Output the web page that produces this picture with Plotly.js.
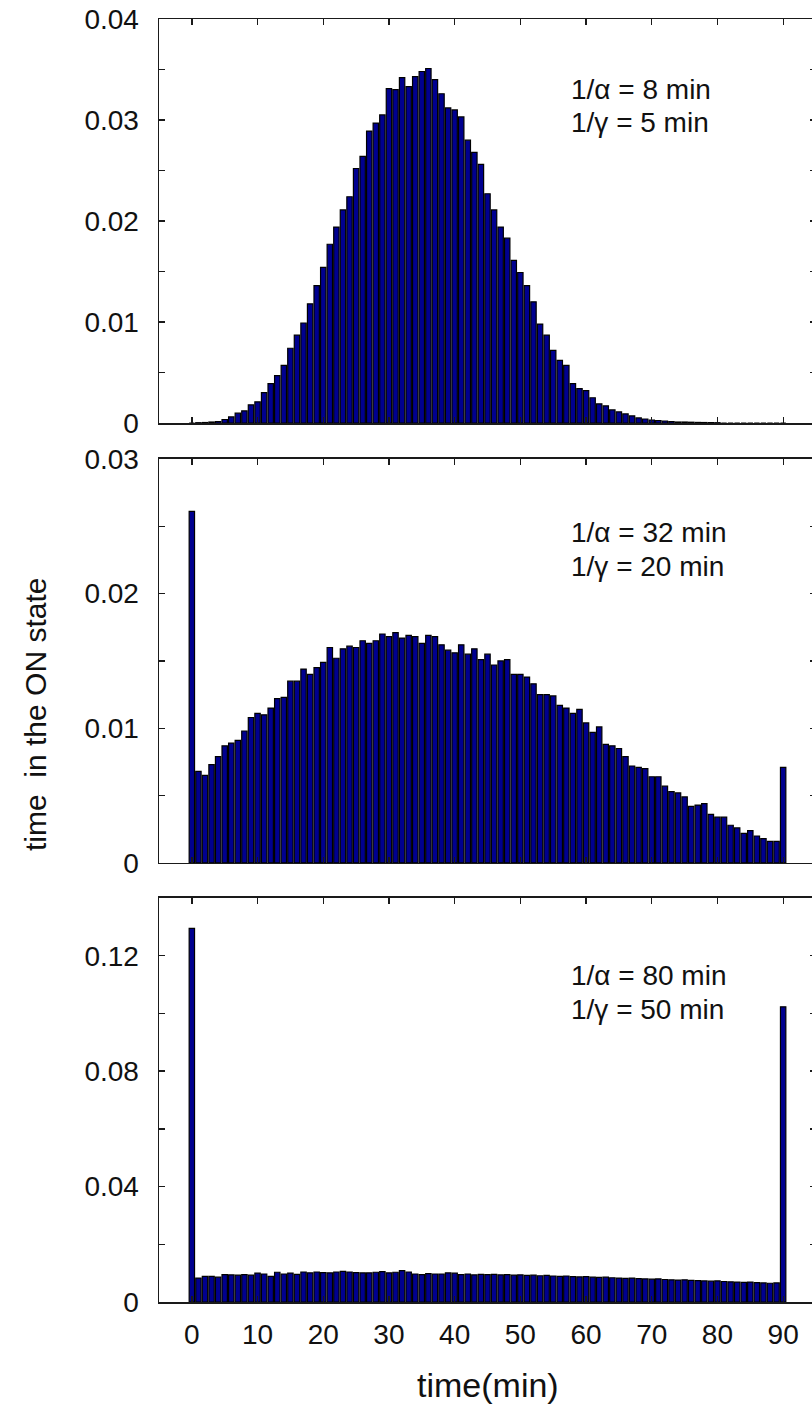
<!DOCTYPE html>
<html>
<head>
<meta charset="utf-8">
<script src="https://cdn.plot.ly/plotly-3.0.1.min.js"></script>
<style>
html,body{margin:0;padding:0;overflow:hidden;background:#ffffff;}
#chart{width:817px;height:1406px;}
</style>
</head>
<body>
<div id="chart"></div>
<script>
// ---- data -------------------------------------------------------------
const timeBins = [0,1,2,3,4,5,6,7,8,9,10,11,12,13,14,15,16,17,18,19,20,21,22,23,24,25,26,27,28,29,30,31,32,33,34,35,36,37,38,39,40,41,42,43,44,45,46,47,48,49,50,51,52,53,54,55,56,57,58,59,60,61,62,63,64,65,66,67,68,69,70,71,72,73,74,75,76,77,78,79,80,81,82,83,84,85,86,87,88,89,90];

// 1/alpha = 8 min, 1/gamma = 5 min
const onTimeFast = [0,0.00003,0.00005,0.0001,0.00015,0.00035,0.0006,0.00097,0.0012,0.0018,
  0.0021,0.0030,0.0039,0.0047,0.0057,0.0074,0.0087,0.0099,0.0118,0.0136,
  0.0154,0.0177,0.0194,0.0211,0.0224,0.0252,0.0264,0.0289,0.0297,0.0305,
  0.0331,0.0330,0.0342,0.0333,0.0343,0.0348,0.0351,0.0340,0.0326,0.0312,
  0.0310,0.0303,0.0280,0.0268,0.0256,0.0227,0.0211,0.0194,0.0183,0.0161,
  0.0149,0.0136,0.0120,0.0098,0.0087,0.0072,0.0062,0.0057,0.0039,0.0034,
  0.0032,0.0025,0.0019,0.0017,0.0013,0.0011,0.0009,0.0007,0.0005,0.0004,
  0.0003,0.00025,0.0002,0.00015,0.0001,0.0001,0.00008,0.00006,0.00005,0.00004,
  0.00003,0,0,0,0,0,0,0,0,0,0];

// 1/alpha = 32 min, 1/gamma = 20 min
const onTimeMid = [0.0261,0.0068,0.0065,0.0073,0.0079,0.0087,0.0089,0.0091,0.0098,0.0108,
  0.0111,0.0110,0.0115,0.0122,0.0123,0.0135,0.0135,0.0144,0.0140,0.0145,
  0.0149,0.0160,0.0152,0.0159,0.0161,0.0160,0.0165,0.0163,0.0165,0.0170,
  0.0168,0.0171,0.0167,0.0169,0.0168,0.0163,0.0169,0.0168,0.0162,0.0158,
  0.0156,0.0162,0.0155,0.0159,0.0151,0.0155,0.0147,0.0150,0.0151,0.0140,
  0.0140,0.0138,0.0133,0.0125,0.0125,0.0124,0.0117,0.0115,0.0111,0.0114,
  0.0104,0.0097,0.0101,0.0088,0.0087,0.0085,0.0079,0.0072,0.0071,0.0070,
  0.0064,0.0064,0.0057,0.0053,0.0052,0.0049,0.0042,0.0043,0.0044,0.0036,
  0.0034,0.0034,0.0028,0.0026,0.0022,0.0024,0.0020,0.0018,0.0016,0.0016,
  0.0071];

// 1/alpha = 80 min, 1/gamma = 50 min
const onTimeSlow = [0.1295,0.0083,0.0089,0.0089,0.0086,0.0095,0.0094,0.0093,0.0095,0.0093,
  0.0100,0.0097,0.0089,0.0103,0.0097,0.0100,0.0096,0.0104,0.0101,0.0104,
  0.0102,0.0101,0.0104,0.0106,0.0104,0.0102,0.0101,0.0101,0.0103,0.0105,
  0.0101,0.0103,0.0109,0.0104,0.0097,0.0095,0.0098,0.0097,0.0097,0.0101,
  0.0100,0.0095,0.0097,0.0094,0.0096,0.0095,0.0096,0.0094,0.0095,0.0093,
  0.0094,0.0092,0.0093,0.0091,0.0092,0.0090,0.0089,0.0090,0.0088,0.0087,
  0.0088,0.0086,0.0085,0.0086,0.0084,0.0083,0.0082,0.0083,0.0081,0.0080,
  0.0079,0.0080,0.0078,0.0077,0.0076,0.0077,0.0075,0.0074,0.0073,0.0072,
  0.0073,0.0071,0.0070,0.0069,0.0068,0.0069,0.0067,0.0066,0.0065,0.0066,
  0.1023];

const xTickVals = [0,10,20,30,40,50,60,70,80,90];
const xTickText = ['0','10','20','30','40','50','60','70','80','90'];

const yTickVals1 = [0,0.005,0.01,0.015,0.02,0.025,0.03,0.035,0.04];
const yTickText1 = ['0','','0.01','','0.02','','0.03','','0.04'];
const yTickVals2 = [0,0.005,0.01,0.015,0.02,0.025,0.03];
const yTickText2 = ['0','','0.01','','0.02','','0.03'];
const yTickVals3 = [0,0.02,0.04,0.06,0.08,0.10,0.12,0.14];
const yTickText3 = ['0','','0.04','','0.08','','0.12',''];

const paramAlpha = ['1/\u03b1 = 8 min','1/\u03b1 = 32 min','1/\u03b1 = 80 min'];
const paramGamma = ['1/\u03b3 = 5 min','1/\u03b3 = 20 min','1/\u03b3 = 50 min'];

const xLabel = 'time(min)';
const yLabel = 'time\u00a0 in the ON state';

// ---- styling --------------------------------------------------------------
const FONT = 'Liberation Sans, Arial, Helvetica, sans-serif';
const INK = '#1a1a1a';
const BAR_FILL = '#00008f';

function barTrace(y, xa, ya) {
  return {
    type: 'bar', x: timeBins, y: y, xaxis: xa, yaxis: ya,
    width: 0.82,
    marker: {color: BAR_FILL, line: {color: '#000000', width: 1.2}},
    hoverinfo: 'skip', showlegend: false
  };
}

const data = [
  barTrace(onTimeFast, 'x', 'y'),
  barTrace(onTimeMid, 'x2', 'y2'),
  barTrace(onTimeSlow, 'x3', 'y3')
];

const axisBase = {
  showline: true, linecolor: INK, linewidth: 1.5, mirror: 'ticks',
  ticks: 'inside', ticklen: 6, tickwidth: 1.3, tickcolor: INK,
  showgrid: false, zeroline: false, fixedrange: true,
  tickfont: {family: FONT, size: 28, color: '#111111'}
};

function xAxis(anchor, labels) {
  return Object.assign({}, axisBase, {
    anchor: anchor, range: [-5, 95], tickmode: 'array',
    tickvals: xTickVals, ticktext: xTickText,
    showticklabels: labels, ticklabelstandoff: 7
  });
}
function yAxis(anchor, domain, range, vals, text) {
  return Object.assign({}, axisBase, {
    anchor: anchor, domain: domain, range: range, tickmode: 'array',
    tickvals: vals, ticktext: text, ticklabelstandoff: 13
  });
}

const annotations = [];
const annoY = [[0.0330, 0.0298], [0.02455, 0.0220], [0.1130, 0.1012]];
['y', 'y2', 'y3'].forEach(function (ya, i) {
  const xa = i === 0 ? 'x' : 'x' + (i + 1);
  annotations.push({xref: xa, yref: ya, x: 57.45, y: annoY[i][0], text: paramAlpha[i],
    showarrow: false, xanchor: 'left', yanchor: 'middle',
    font: {family: FONT, size: 28, color: '#111111'}});
  annotations.push({xref: xa, yref: ya, x: 57.45, y: annoY[i][1], text: paramGamma[i],
    showarrow: false, xanchor: 'left', yanchor: 'middle',
    font: {family: FONT, size: 28, color: '#111111'}});
});
annotations.push({xref: 'paper', yref: 'paper', x: 0.5, y: 0, yshift: -83,
  text: xLabel, showarrow: false, xanchor: 'center', yanchor: 'middle',
  font: {family: FONT, size: 34, color: '#111111'}});
annotations.push({xref: 'paper', yref: 'paper', x: 0, xshift: -124, y: 0.4575,
  text: yLabel, showarrow: false, textangle: -90, xanchor: 'center', yanchor: 'middle',
  font: {family: FONT, size: 30, color: '#111111'}});

const layout = {
  width: 817, height: 1406,
  margin: {l: 159, r: 1, t: 19, b: 104, pad: 0},
  paper_bgcolor: '#ffffff', plot_bgcolor: '#ffffff',
  bargap: 0,
  xaxis: xAxis('y', false),
  xaxis2: xAxis('y2', false),
  xaxis3: xAxis('y3', true),
  yaxis: yAxis('x', [0.6851, 1], [0, 0.04], yTickVals1, yTickText1),
  yaxis2: yAxis('x2', [0.3422, 0.6571], [0, 0.03], yTickVals2, yTickText2),
  yaxis3: yAxis('x3', [0, 0.3149], [0, 0.14], yTickVals3, yTickText3),
  annotations: annotations,
  font: {family: FONT, color: '#111111'}
};

Plotly.newPlot('chart', data, layout, {displayModeBar: false, staticPlot: true});
</script>
</body>
</html>
